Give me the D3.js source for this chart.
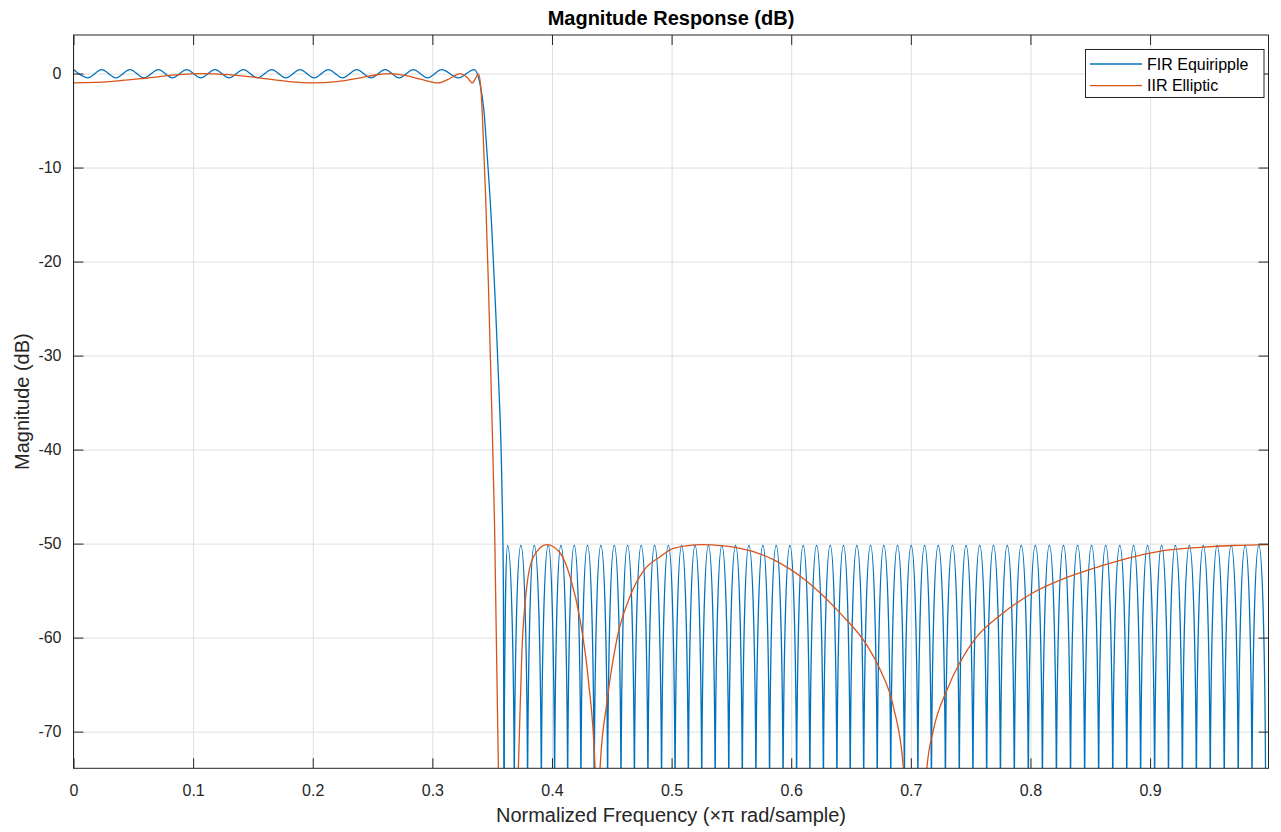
<!DOCTYPE html>
<html>
<head>
<meta charset="utf-8">
<script src="https://cdn.jsdelivr.net/npm/d3@7"></script>
<style>
  body { margin: 0; background: #fff; }
  svg { font-family: "Liberation Sans", Arial, sans-serif; }
</style>
</head>
<body>
<svg width="1281" height="832"></svg>
<script>
// ---- data ----
const xTicks = [0, 0.1, 0.2, 0.3, 0.4, 0.5, 0.6, 0.7, 0.8, 0.9];
const yTicks = [0, -10, -20, -30, -40, -50, -60, -70];
const seriesNames = ["FIR Equiripple", "IIR Elliptic"];
const seriesColors = ["#0072BD", "#D95319"];

// FIR passband ripple + transition  [freq, dB]
const firPass = [
  [0, 0.42], [0.0118, -0.45], [0.0236, 0.42], [0.0354, -0.45], [0.0472, 0.42], [0.059, -0.45],
  [0.0709, 0.42], [0.0827, -0.45], [0.0946, 0.42], [0.1064, -0.45], [0.1183, 0.42], [0.1301, -0.45],
  [0.142, 0.42], [0.1538, -0.45], [0.1657, 0.42], [0.1775, -0.45], [0.1894, 0.42], [0.2012, -0.45],
  [0.2131, 0.42], [0.225, -0.45], [0.2368, 0.42], [0.2487, -0.45], [0.2605, 0.42], [0.2723, -0.45],
  [0.2841, 0.42], [0.296, -0.45], [0.3078, 0.42], [0.3217, -0.45], [0.335, 0.42],
  [0.3395, -0.9], [0.343, -3.8], [0.346, -9], [0.3495, -16], [0.3525, -24], [0.3555, -33],
  [0.358, -43], [0.3594, -55], [0.3600, -80]
];

// FIR stopband lobes: peak and null frequencies
const firStopPeaks = [
  0.3629, 0.3740, 0.3852, 0.3969, 0.4075, 0.4186, 0.4297, 0.4409, 0.4521, 0.4632,
  0.4746, 0.4858, 0.4973, 0.5084, 0.5196, 0.5308, 0.5420, 0.5535, 0.5646, 0.5763,
  0.5874, 0.5989, 0.6100, 0.6212, 0.6326, 0.6437, 0.6549, 0.6663, 0.6774, 0.6889,
  0.7003, 0.7115, 0.7229, 0.7348, 0.7462, 0.7576, 0.7691, 0.7806, 0.7923, 0.8041,
  0.8158, 0.8276, 0.8394, 0.8511, 0.8629, 0.8747, 0.8862, 0.8979, 0.9096, 0.9211,
  0.9328, 0.9445, 0.9561, 0.9678, 0.9795, 0.9909
];
const firStopNulls = [
  0.3600, 0.3685, 0.3796, 0.3911, 0.4022, 0.4131, 0.4242, 0.4353, 0.4465, 0.4577,
  0.4689, 0.4802, 0.4916, 0.5029, 0.5140, 0.5252, 0.5364, 0.5478, 0.5591, 0.5705,
  0.5819, 0.5932, 0.6045, 0.6156, 0.6269, 0.6382, 0.6493, 0.6606, 0.6719, 0.6832,
  0.6946, 0.7059, 0.7172, 0.7289, 0.7405, 0.7519, 0.7634, 0.7749, 0.7865, 0.7982,
  0.8100, 0.8217, 0.8335, 0.8453, 0.8570, 0.8688, 0.8805, 0.8921, 0.9038, 0.9154,
  0.9270, 0.9387, 0.9503, 0.9620, 0.9737, 0.9852, 0.9966
];
const firStopPeakDb = -50.2;
const firStopNullDb = -80;

// IIR elliptic response [freq, dB]
const iirResp = [
  [0, -1.0], [0.03, -0.85], [0.06, -0.5], [0.085, -0.15], [0.107, 0], [0.13, -0.12], [0.155, -0.45],
  [0.18, -0.85], [0.2, -1.0], [0.22, -0.85], [0.24, -0.45], [0.255, -0.1], [0.265, 0], [0.277, -0.2],
  [0.29, -0.6], [0.305, -1.0], [0.315, -0.5], [0.323, 0], [0.329, -0.4], [0.3335, -1.0], [0.3365, -0.4],
  [0.3385, 0], [0.3405, -1.5], [0.342, -5], [0.3445, -13], [0.347, -23], [0.3495, -35], [0.352, -48],
  [0.3552, -73.9], [0.3635, -100], [0.3719, -73.9], [0.3748, -61.7], [0.3789, -54.6], [0.3845, -51.4],
  [0.3957, -50.1], [0.4068, -51.0], [0.4151, -53.5], [0.4235, -58.1], [0.4304, -64.5], [0.436, -73.9],
  [0.4381, -100], [0.4402, -73.9], [0.4458, -67.0], [0.4542, -60.2], [0.4653, -55.6], [0.4765, -52.9],
  [0.4904, -51.4], [0.5015, -50.5], [0.5253, -50.1], [0.5574, -50.5], [0.5851, -51.7], [0.613, -54.0],
  [0.6409, -57.4], [0.6632, -60.8], [0.6743, -63.4], [0.6855, -67.4], [0.6938, -73.9], [0.7036, -100],
  [0.7134, -73.9], [0.7189, -69.8], [0.7301, -65.6], [0.7412, -62.6], [0.7552, -59.9], [0.775, -57.6],
  [0.8025, -55.2], [0.8304, -53.6], [0.8583, -52.4], [0.8861, -51.4], [0.914, -50.7], [0.9419, -50.4],
  [0.9697, -50.2], [0.999, -50.1]
];

// ---- layout ----
var svg = d3.select("svg"),
    plotL = 73.5, plotR = 1268.5, plotT = 35, plotB = 768.3;

var x = d3.scaleLinear().domain([0, 0.999]).range([plotL, plotR]);
var y = d3.scaleLinear().domain([-73.9, 4.1]).range([plotB, plotT]);

var axisColor = "#262626";
var tickFmt = d => String(d);

// grid
svg.append("g")
    .attr("transform", "translate(0," + plotB + ")")
    .call(d3.axisBottom(x).tickValues(xTicks).tickSize(-(plotB - plotT)).tickFormat(""))
    .call(g => g.select(".domain").remove())
    .selectAll("line").attr("stroke", "#dfdfdf");
svg.append("g")
    .attr("transform", "translate(" + plotL + ",0)")
    .call(d3.axisLeft(y).tickValues(yTicks).tickSize(-(plotR - plotL)).tickFormat(""))
    .call(g => g.select(".domain").remove())
    .selectAll("line").attr("stroke", "#dfdfdf");

// data
svg.append("clipPath").attr("id", "plotclip")
  .append("rect").attr("x", plotL).attr("y", plotT).attr("width", plotR - plotL).attr("height", plotB - plotT);

var plot = svg.append("g").attr("clip-path", "url(#plotclip)");

// lobe curve: flat at a peak, vertical into a null
function curveLobe(ctx) {
  var x0, y0, n;
  return {
    lineStart: function() { n = 0; },
    lineEnd: function() {},
    point: function(px, py) {
      if (n++ === 0) ctx.moveTo(px, py);
      else {
        var k = 0.5523;
        if (py > y0) ctx.bezierCurveTo(x0 + k * (px - x0), y0, px, py - k * (py - y0), px, py);
        else ctx.bezierCurveTo(x0, y0 - k * (y0 - py), px - k * (px - x0), py, px, py);
      }
      x0 = px; y0 = py;
    }
  };
}

var lineSmooth = d3.line().x(d => x(d[0])).y(d => y(d[1])).curve(d3.curveMonotoneX);

var firStop = [];
firStopNulls.forEach(function(f, i) {
  firStop.push([f, firStopNullDb]);
  if (i < firStopPeaks.length) firStop.push([firStopPeaks[i], firStopPeakDb]);
});
var lineLobe = d3.line().x(d => x(d[0])).y(d => y(d[1])).curve(curveLobe);

plot.append("path").datum(firPass)
    .attr("fill", "none").attr("stroke", seriesColors[0]).attr("stroke-width", 1.3)
    .attr("d", lineSmooth);
plot.append("path").datum(firStop)
    .attr("fill", "none").attr("stroke", seriesColors[0]).attr("stroke-width", 1.3)
    .attr("d", lineLobe);
plot.append("path").datum(iirResp)
    .attr("fill", "none").attr("stroke", seriesColors[1]).attr("stroke-width", 1.3)
    .attr("d", lineSmooth);

// axes with inward ticks
function styleAxis(g) {
  g.select(".domain").remove();
  g.selectAll("line").attr("stroke", axisColor);
  g.selectAll("text").attr("fill", axisColor).style("font-size", "16px");
}
svg.append("g").attr("transform", "translate(0," + plotB + ")")
    .call(d3.axisBottom(x).tickValues(xTicks).tickSize(-10).tickPadding(16).tickFormat(tickFmt))
    .call(styleAxis);
svg.append("g").attr("transform", "translate(0," + plotT + ")")
    .call(d3.axisTop(x).tickValues(xTicks).tickSize(-10).tickFormat(""))
    .call(styleAxis);
svg.append("g").attr("transform", "translate(" + plotL + ",0)")
    .call(d3.axisLeft(y).tickValues(yTicks).tickSize(-10).tickPadding(12).tickFormat(tickFmt))
    .call(styleAxis);
svg.append("g").attr("transform", "translate(" + plotR + ",0)")
    .call(d3.axisRight(y).tickValues(yTicks).tickSize(-10).tickFormat(""))
    .call(styleAxis);

svg.append("rect")
    .attr("x", plotL).attr("y", plotT).attr("width", plotR - plotL).attr("height", plotB - plotT)
    .attr("fill", "none").attr("stroke", axisColor).attr("stroke-width", 1);

// titles
svg.append("text").attr("x", (plotL + plotR) / 2).attr("y", 25)
    .attr("text-anchor", "middle").attr("font-weight", "bold").attr("font-size", 20)
    .attr("fill", "#000").text("Magnitude Response (dB)");
svg.append("text").attr("x", (plotL + plotR) / 2).attr("y", 822)
    .attr("text-anchor", "middle").attr("font-size", 20).attr("fill", axisColor)
    .text("Normalized Frequency (\u00D7\u03C0 rad/sample)");
svg.append("text").attr("transform", "translate(29," + (plotT + plotB) / 2 + ") rotate(-90)")
    .attr("text-anchor", "middle").attr("font-size", 20).attr("fill", axisColor)
    .text("Magnitude (dB)");

// legend
var legend = svg.append("g");
legend.append("rect").attr("x", 1085.5).attr("y", 49.5).attr("width", 178.5).attr("height", 48)
    .attr("fill", "#fff").attr("stroke", axisColor).attr("stroke-width", 1);
seriesNames.forEach(function(name, i) {
  var ly = 64 + i * 21.7;
  legend.append("line").attr("x1", 1090).attr("x2", 1142).attr("y1", ly).attr("y2", ly)
      .attr("stroke", seriesColors[i]).attr("stroke-width", 1.3);
  legend.append("text").attr("x", 1147).attr("y", ly).attr("dy", "0.35em")
      .attr("font-size", 16).attr("fill", "#000").text(name);
});
</script>
</body>
</html>
